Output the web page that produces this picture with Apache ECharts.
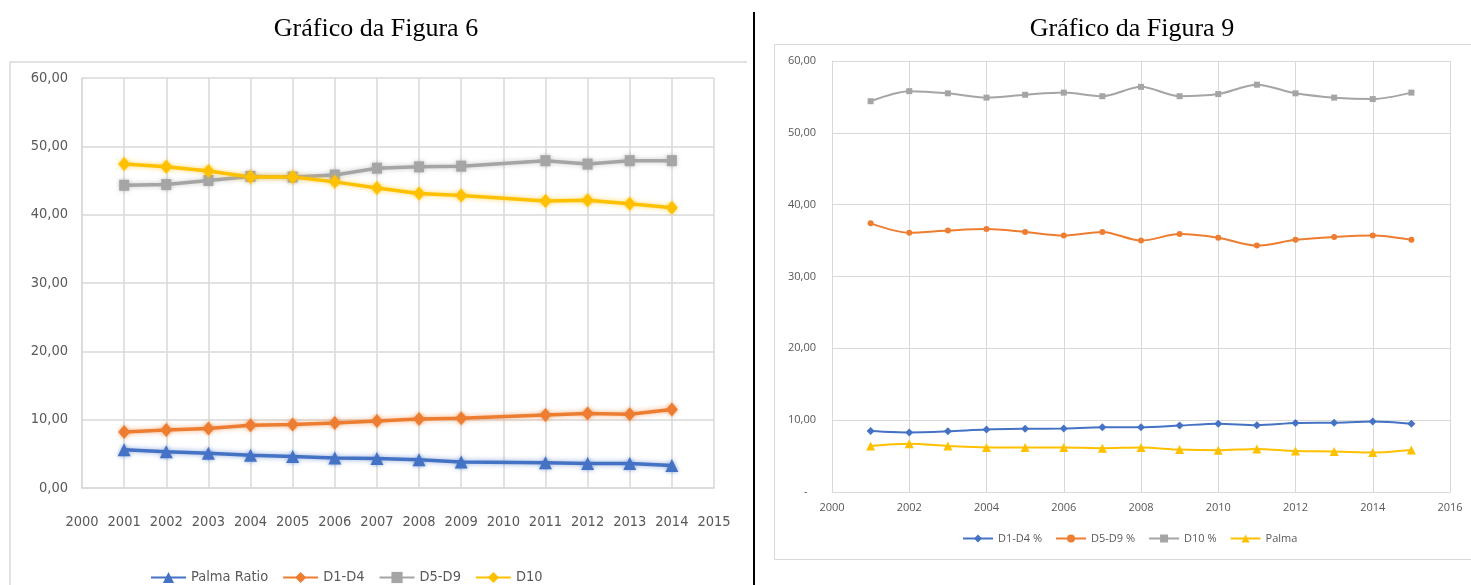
<!DOCTYPE html>
<html>
<head>
<meta charset="utf-8">
<script src="https://cdn.jsdelivr.net/npm/echarts@6/dist/echarts.min.js"></script>
<style>
  html, body { margin: 0; padding: 0; background: #fff; }
  #chart { width: 1471px; height: 585px; }
</style>
</head>
<body>
<div id="chart"></div>
<script>
// Figura 6: income shares by decile group and Palma ratio (2010 not surveyed)
const years6 = [2001, 2002, 2003, 2004, 2005, 2006, 2007, 2008, 2009, 2011, 2012, 2013, 2014];
const palmaRatio6 = [5.6, 5.3, 5.1, 4.8, 4.6, 4.4, 4.3, 4.15, 3.8, 3.7, 3.6, 3.6, 3.3];
const d1d4_6 = [8.2, 8.5, 8.7, 9.2, 9.3, 9.5, 9.8, 10.1, 10.2, 10.7, 10.9, 10.8, 11.5];
const d5d9_6 = [44.3, 44.4, 45.0, 45.6, 45.5, 45.8, 46.8, 47.0, 47.1, 47.9, 47.4, 47.9, 47.9];
const d10_6 = [47.4, 47.0, 46.4, 45.5, 45.5, 44.8, 43.9, 43.1, 42.8, 42.0, 42.1, 41.6, 41.0];

// Figura 9: same shares, 2001-2015
const years9 = [2001, 2002, 2003, 2004, 2005, 2006, 2007, 2008, 2009, 2010, 2011, 2012, 2013, 2014, 2015];
const d1d4_9 = [8.5, 8.3, 8.45, 8.7, 8.8, 8.85, 9.0, 9.0, 9.25, 9.5, 9.3, 9.6, 9.65, 9.8, 9.5];
const d5d9_9 = [37.4, 36.1, 36.4, 36.6, 36.2, 35.7, 36.2, 35.0, 35.9, 35.4, 34.3, 35.1, 35.5, 35.7, 35.1];
const d10_9 = [54.4, 55.8, 55.5, 54.9, 55.3, 55.6, 55.1, 56.4, 55.1, 55.4, 56.7, 55.5, 54.9, 54.7, 55.6];
const palma_9 = [6.4, 6.7, 6.4, 6.2, 6.2, 6.2, 6.1, 6.2, 5.9, 5.8, 6.0, 5.7, 5.65, 5.5, 5.85];

const titles = ['Gráfico da Figura 6', 'Gráfico da Figura 9'];
const names6 = ['Palma Ratio', 'D1-D4', 'D5-D9', 'D10'];
const names9 = ['D1-D4 %', 'D5-D9 %', 'D10 %', 'Palma'];

const BLUE = '#4472C4', ORANGE = '#ED7D31', GRAY = '#A5A5A5', YELLOW = '#FFC000';
const GRID = '#d9d9d9', LABEL = '#595959';
const NARROW = "'Liberation Sans Narrow', 'DejaVu Sans Condensed', sans-serif";
const OPEN = "'Open Sans', 'Noto Sans', sans-serif";
const NARROW_SIZE = 14.5;

const pairs = (xs, ys) => xs.map((x, i) => [x, ys[i]]);
const comma = v => v.toFixed(2).replace('.', ',');

function series6(name, data, color, symbol, size) {
  return {
    name, type: 'line', xAxisIndex: 0, yAxisIndex: 0,
    data: pairs(years6, data),
    symbol, symbolSize: size,
    lineStyle: { color, width: 3.5, shadowBlur: 5, shadowColor: color + '99' },
    itemStyle: { color, shadowBlur: 4, shadowColor: color + '99' },
    emphasis: { disabled: true }
  };
}
function series9(name, data, color, symbol, size) {
  return {
    name, type: 'line', xAxisIndex: 1, yAxisIndex: 1,
    data: pairs(years9, data),
    smooth: 0.3,
    symbol, symbolSize: size,
    lineStyle: { color, width: 2 },
    itemStyle: { color },
    emphasis: { disabled: true }
  };
}

const titleText = { fontFamily: "'Liberation Serif', serif", fontSize: 26, fontWeight: 'normal', color: '#000' };

const chart = echarts.init(document.getElementById('chart'));
chart.setOption({
  animation: false,
  backgroundColor: '#fff',
  title: [
    { text: titles[0], left: 371, top: 11, textAlign: 'center', textStyle: titleText },
    { text: titles[1], left: 1127, top: 11, textAlign: 'center', textStyle: titleText }
  ],
  legend: [
    { data: names6, left: 145, top: 565, itemWidth: 35, itemHeight: 14, itemGap: 14,
      textStyle: { fontFamily: NARROW, fontSize: NARROW_SIZE, color: LABEL } },
    { data: names9, left: 957, top: 528, itemWidth: 30, itemHeight: 10, itemGap: 13,
      textStyle: { fontFamily: OPEN, fontSize: 11, color: LABEL } }
  ],
  grid: [
    { left: 82, top: 78, width: 632, height: 410 },
    { left: 832, top: 61, width: 618, height: 431 }
  ],
  xAxis: [
    { type: 'value', gridIndex: 0, min: 2000, max: 2015, interval: 1,
      axisLine: { lineStyle: { color: GRID, width: 1.5 } }, axisTick: { show: false },
      splitLine: { lineStyle: { color: GRID, width: 1.5 } },
      axisLabel: { formatter: v => String(v), margin: 27, fontFamily: NARROW, fontSize: NARROW_SIZE, color: LABEL } },
    { type: 'value', gridIndex: 1, min: 2000, max: 2016, interval: 2,
      axisLine: { lineStyle: { color: GRID, width: 1 } }, axisTick: { show: false },
      splitLine: { lineStyle: { color: GRID, width: 1 } },
      axisLabel: { formatter: v => String(v), margin: 10, fontFamily: OPEN, fontSize: 11, color: LABEL } }
  ],
  yAxis: [
    { type: 'value', gridIndex: 0, min: 0, max: 60, interval: 10,
      axisLine: { show: true, lineStyle: { color: GRID, width: 1.5 } }, axisTick: { show: false },
      splitLine: { lineStyle: { color: GRID, width: 1.5 } },
      axisLabel: { formatter: v => comma(v), margin: 14, fontFamily: NARROW, fontSize: NARROW_SIZE, color: LABEL } },
    { type: 'value', gridIndex: 1, min: 0, max: 60, interval: 10,
      axisLine: { show: true, lineStyle: { color: GRID, width: 1 } }, axisTick: { show: false },
      splitLine: { lineStyle: { color: GRID, width: 1 } },
      axisLabel: { formatter: v => (v === 0 ? '-   ' : comma(v)), margin: 16, fontFamily: OPEN, fontSize: 11, color: LABEL } }
  ],
  series: [
    series6(names6[0], palmaRatio6, BLUE, 'triangle', [13, 13]),
    series6(names6[1], d1d4_6, ORANGE, 'diamond', [12, 14]),
    series6(names6[2], d5d9_6, GRAY, 'rect', [10, 11]),
    series6(names6[3], d10_6, YELLOW, 'diamond', [12, 14]),
    series9(names9[0], d1d4_9, BLUE, 'diamond', 8),
    series9(names9[1], d5d9_9, ORANGE, 'circle', 6),
    series9(names9[2], d10_9, GRAY, 'rect', 6),
    series9(names9[3], palma_9, YELLOW, 'triangle', 9)
  ],
  graphic: [
    // frame of the first chart (top and left edges)
    { type: 'polyline', silent: true, shape: { points: [[10, 586], [10, 62], [747, 62]] },
      style: { stroke: GRID, lineWidth: 1.5, fill: null } },
    // frame of the second chart
    { type: 'rect', silent: true, shape: { x: 774.5, y: 44.5, width: 720, height: 515 },
      style: { stroke: GRID, lineWidth: 1, fill: null } },
    // divider between the two figures
    { type: 'line', silent: true, shape: { x1: 754, y1: 12, x2: 754, y2: 586 },
      style: { stroke: '#000', lineWidth: 2 } }
  ]
});
</script>
</body>
</html>
